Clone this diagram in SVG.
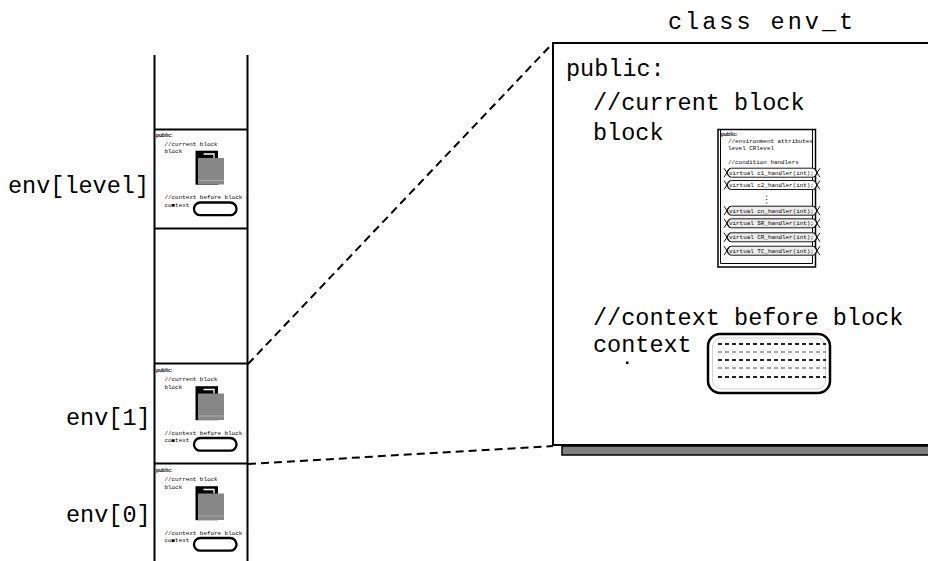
<svg xmlns="http://www.w3.org/2000/svg" xmlns:xlink="http://www.w3.org/1999/xlink" width="928" height="561" viewBox="0 0 928 561">
  <style>
    .mono { font-family: "Liberation Mono", "Courier New", monospace; fill: #000; }
    .big { font-size: 23.5px; }
    .tiny { font-size: 5.9px; }
    .pub { font-family: "Liberation Sans", Arial, sans-serif; font-weight: bold; font-size: 5px; fill: #000; }
    .wall { stroke: #000; stroke-width: 2; fill: none; }
    .dash { stroke: #000; stroke-width: 2; stroke-dasharray: 8 5; fill: none; }
    .cap { stroke: #000; stroke-width: 0.9; }
  </style>
  <defs>
    <!-- miniature env_t layout, origin at the top-left corner of a stack slot -->
    <g id="mini-env">
      <text class="pub" x="1.5" y="8.5">public:</text>
      <text class="mono tiny" x="10" y="17.7">//current block</text>
      <text class="mono tiny" x="10" y="25">block</text>
      <rect x="41" y="22.7" width="22.5" height="34" fill="#000"/>
      <polyline points="49,26 59.5,26 59.5,30" fill="none" stroke="#fff" stroke-width="1.3"/>
      <rect x="43.5" y="30" width="26" height="26.5" fill="#878787"/>
      <line x1="43.5" y1="52.5" x2="69.5" y2="52.5" stroke="#c8c8c8" stroke-width="0.6"/>
      <text class="mono tiny" x="10" y="71">//context before block</text>
      <text class="mono tiny" x="10" y="78.5">context</text>
      <rect x="17.3" y="76" width="2.5" height="2.5" fill="#000"/>
      <rect x="39.5" y="74.5" width="42.5" height="12.7" rx="6.3" fill="#fff" stroke="#000" stroke-width="2.3"/>
    </g>
    <!-- condition handler capsule, centred on y = 0 -->
    <g id="handler-cap" class="cap">
      <rect x="727" y="-4.5" width="90" height="9" rx="4.5"/>
      <path d="M724 -4.5 L730 4.5 M724 4.5 L730 -4.5 M814 -4.5 L820 4.5 M814 4.5 L820 -4.5" fill="none"/>
    </g>
  </defs>

  <rect width="928" height="561" fill="#fff"/>

  <!-- environment stack column -->
  <g id="stack">
    <line class="wall" x1="154.5" y1="55" x2="154.5" y2="561"/>
    <line class="wall" x1="247.5" y1="55" x2="247.5" y2="561"/>
  </g>

  <g id="env_level">
    <line class="wall" x1="154.5" y1="129.5" x2="247.5" y2="129.5"/>
    <line class="wall" x1="154.5" y1="228.5" x2="247.5" y2="228.5"/>
    <use xlink:href="#mini-env" transform="translate(154.5,128)"/>
    <text class="mono big" x="8" y="193">env[level]</text>
  </g>

  <g id="env_1">
    <line class="wall" x1="154.5" y1="363.5" x2="247.5" y2="363.5"/>
    <use xlink:href="#mini-env" transform="translate(154.5,363.5)"/>
    <text class="mono big" x="66" y="425">env[1]</text>
  </g>

  <g id="env_0">
    <line class="wall" x1="154.5" y1="463.5" x2="247.5" y2="463.5"/>
    <use xlink:href="#mini-env" transform="translate(154.5,463.5)"/>
    <text class="mono big" x="66" y="522">env[0]</text>
  </g>

  <!-- zoom-out guide lines from env[1] to the class view -->
  <g id="connectors">
    <line class="dash" x1="248" y1="364" x2="553" y2="43"/>
    <line class="dash" x1="248" y1="464" x2="553" y2="446"/>
  </g>

  <!-- expanded class view -->
  <g id="env_t">
    <text class="mono big" x="668" y="29" letter-spacing="3">class env_t</text>
    <rect x="562" y="446" width="400" height="9" fill="#808080" stroke="#000" stroke-width="1.5"/>
    <rect x="553" y="43" width="420" height="402" fill="#fff" stroke="#000" stroke-width="2"/>
    <text class="mono big" x="566" y="76">public:</text>
    <text class="mono big" x="593" y="110">//current block</text>
    <text class="mono big" x="593" y="140">block</text>
    <text class="mono big" x="593" y="325">//context before block</text>
    <text class="mono big" x="593" y="352">context</text>
    <rect x="626" y="361.5" width="2.5" height="2.5" fill="#000"/>

    <!-- context object -->
    <rect x="708" y="334" width="122" height="59" rx="12" fill="#fff" stroke="#000" stroke-width="2.5"/>
    <rect x="712.5" y="338" width="113" height="51" rx="9" fill="none" stroke="#bdbdbd" stroke-width="0.7"/>
    <g fill="none" stroke-dasharray="4 3">
      <line x1="718" y1="344" x2="826" y2="344" stroke="#222" stroke-width="1.8"/>
      <line x1="718" y1="352" x2="826" y2="352" stroke="#555" stroke-width="1.1"/>
      <line x1="718" y1="360" x2="826" y2="360" stroke="#222" stroke-width="1.8"/>
      <line x1="718" y1="368" x2="826" y2="368" stroke="#555" stroke-width="1.1"/>
      <line x1="718" y1="377" x2="826" y2="377" stroke="#222" stroke-width="1.8"/>
    </g>
  </g>

  <!-- current block object -->
  <g id="block">
    <rect x="718" y="129.5" width="97.5" height="137.5" fill="#fff" stroke="#000" stroke-width="1.5"/>
    <path d="M720.5 130 V263.5 H812.5 V130" fill="none" stroke="#000" stroke-width="1"/>
    <text class="pub" x="721" y="136">public:</text>
    <text class="mono tiny" x="728" y="142.5">//environment attributes</text>
    <text class="mono tiny" x="728" y="149.5">level  CRlevel</text>
    <text class="mono tiny" x="728" y="163.5">//condition handlers</text>

    <use xlink:href="#handler-cap" y="172.7" fill="#fff"/>
    <use xlink:href="#handler-cap" y="185" fill="#fff"/>
    <use xlink:href="#handler-cap" y="210.7" fill="#ececec"/>
    <use xlink:href="#handler-cap" y="223.3" fill="#ececec"/>
    <use xlink:href="#handler-cap" y="237.3" fill="#ececec"/>
    <use xlink:href="#handler-cap" y="250.7" fill="#ececec"/>

    <text class="mono tiny" x="729" y="174.8">virtual c1_handler(int);</text>
    <text class="mono tiny" x="729" y="187.1">virtual c2_handler(int);</text>
    <g fill="#000">
      <rect x="766.2" y="195.5" width="1" height="1"/>
      <rect x="766.2" y="199" width="1" height="1"/>
      <rect x="766.2" y="202.5" width="1" height="1"/>
    </g>
    <text class="mono tiny" x="729" y="212.8">virtual cn_handler(int);</text>
    <text class="mono tiny" x="729" y="225.4">virtual SR_handler(int);</text>
    <text class="mono tiny" x="729" y="239.4">virtual CR_handler(int);</text>
    <text class="mono tiny" x="729" y="252.8">virtual TC_handler(int);</text>
  </g>
</svg>
